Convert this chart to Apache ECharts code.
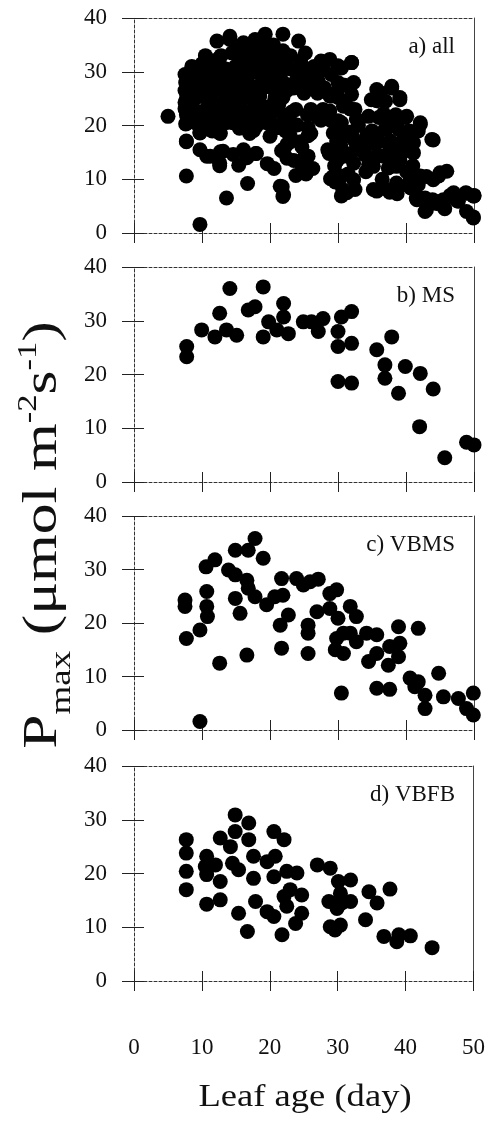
<!DOCTYPE html>
<html>
<head>
<meta charset="utf-8">
<script src="https://cdn.jsdelivr.net/npm/echarts@6/dist/echarts.min.js"></script>
<style>
html,body{margin:0;padding:0;background:#fff;}
#chart{width:488px;height:1125px;}
</style>
</head>
<body>
<div id="chart"></div>
<script>
// ---- data (leaf age in days, Pmax in µmol m-2 s-1) ----
const xTicks = [0, 10, 20, 30, 40, 50];
const yTicks = [0, 10, 20, 30, 40];
const panelLabels = ['a) all', 'b) MS', 'c) VBMS', 'd) VBFB'];

const msDay  = [7.75,7.75,9.95,11.9,12.6,14.1,13.6,15.1,16.8,17.8,19.0,19.0,19.8,21.0,22.0,22.0,22.7,24.9,26.1,27.1,27.8,30.0,30.0,30.5,32.0,32.0,30.0,32.0,35.7,37.9,36.9,36.9,38.9,39.9,42.1,44.0,42.0,45.7,48.9,50.0];
const msPmax = [25.2,23.3,28.3,27.0,31.4,36.0,28.3,27.3,32.0,32.6,36.3,27.0,29.8,28.3,33.2,30.7,27.6,29.8,29.8,28.0,30.4,28.0,25.2,30.7,31.7,25.8,18.7,18.4,24.6,27.0,21.8,19.3,16.5,21.5,20.2,17.3,10.3,4.5,7.4,6.9];

const vbmsDay  = [7.5,7.5,7.7,9.7,10.7,10.7,10.8,10.6,11.9,12.6,9.7,13.9,14.9,14.9,16.8,17.8,19.0,16.6,16.8,17.8,14.9,15.6,16.6,19.5,20.7,21.9,21.7,23.9,24.9,25.9,27.1,21.5,22.7,21.7,25.6,25.6,25.6,26.9,28.8,29.8,28.8,30.0,29.8,30.8,29.6,30.8,30.5,31.8,32.7,31.8,32.7,34.2,35.7,34.5,35.7,35.7,37.6,37.6,39.1,38.9,37.4,38.9,41.8,40.6,41.8,41.3,42.8,42.8,44.8,45.5,47.7,48.9,49.9,49.9];
const vbmsPmax = [24.3,23.1,17.1,18.7,25.9,23.1,21.2,30.5,31.8,12.5,1.6,29.9,29.0,33.6,33.6,35.8,32.1,28.0,26.5,24.9,24.6,21.8,14.0,23.4,24.9,25.2,28.3,28.3,27.1,27.7,28.2,19.6,21.5,15.3,19.6,18.1,14.3,22.1,25.5,26.2,22.7,20.9,17.1,18.1,15.0,14.3,6.9,23.1,21.2,18.1,16.5,18.1,17.8,12.8,14.3,7.8,7.6,15.6,16.2,13.7,12.1,19.3,19.0,9.7,9.0,8.1,6.5,4.0,10.6,6.2,5.9,4.0,2.8,6.9];

const vbfbDay  = [7.7,7.7,7.7,7.7,10.7,10.5,10.7,10.7,12.7,12.7,12.7,14.2,14.9,14.9,16.9,16.9,14.5,15.4,12.0,15.4,16.7,17.6,17.6,17.9,19.6,20.8,20.6,22.1,20.6,22.5,24.0,19.6,20.6,22.1,23.0,24.7,22.5,24.7,21.8,23.8,27.0,28.9,30.1,31.9,28.7,30.4,30.6,31.9,29.9,28.9,30.4,29.6,34.1,34.6,35.8,37.7,36.8,39.0,40.7,38.7,43.9];
const vbfbPmax = [26.3,23.8,20.4,17.0,23.2,21.3,19.8,14.3,15.1,18.5,26.6,25.0,27.8,30.9,29.4,26.3,21.9,20.7,21.6,12.6,9.2,23.2,19.1,14.8,22.2,23.2,27.8,26.3,19.4,20.4,20.1,12.9,12.0,15.7,17.0,16.0,13.9,12.6,8.6,10.7,21.6,21.0,18.5,18.8,14.8,16.3,14.5,14.8,13.5,10.1,10.4,9.5,11.4,16.6,14.5,17.1,8.3,8.6,8.4,7.3,6.2];

// additional leaves shown only in panel a) all
const otherDay  = [5.0,7.7,7.5,7.6,7.5,7.7,7.6,9.5,9.8,10.2,10.0,9.7,9.7,11.2,11.0,11.5,11.8,12.0,12.3,12.6,12.6,13.1,13.6,12.2,12.8,13.5,13.8,14.1,14.4,14.6,15.0,15.3,15.7,16.1,16.1,16.3,16.5,17.0,17.5,17.8,18.0,18.0,18.0,18.5,19.0,19.3,19.5,20.0,20.3,20.0,21.0,21.3,21.5,21.9,21.9,21.9,22.3,22.5,23.0,23.2,23.5,24.2,24.5,25.5,26.0,26.3,27.0,27.5,28.8,28.3,29.1,29.3,30.0,30.3,30.3,31.0,31.3,31.8,32.0,32.3,32.3,32.3,32.3,33.0,34.5,34.9,35.7,36.5,36.7,36.7,37.1,37.9,38.1,38.6,38.6,39.1,39.6,40.1,40.1,40.6,41.5,42.1,42.1,43.8,44.0,44.5,45.0,46.0,46.5,47.5,48.8,49.9,50.0,
  8.5,9.0,9.0,10.5,10.5,10.8,11.5,12.0,13.0,13.0,14.0,14.5,15.0,15.8,16.5,17.0,17.5,18.5,18.8,19.5,20.5,20.8,21.5,22.5,23.0,23.5,24.0,24.5,25.2,25.0,25.3,26.5,27.0,
  35.2,36.2,37.6,39.1,41.1,41.1,39.1,30.7,32.5,35.2,38.6,43.0,43.0,45.5,47.0,41.6,30.8,27.8,29.3,29.3,22.0,
  8.3,8.5,9.2,9.5,10.0,11.0,11.0,11.5,12.5,12.5,13.5,13.5,14.5,14.8,15.5,15.5,16.0,16.8,17.0,17.5,18.0,18.5,19.0,19.8,20.0,20.5,21.0,21.5,22.0,22.5,23.0,23.5,23.8,24.5,25.0,25.5,26.0,26.5,27.5,28.0,28.5,29.0,29.5,30.5,31.0,31.5,32.5,33.0,
  34.0,35.0,36.0,37.0,38.0,38.5,39.5,40.5,41.0,36.0];
const otherPmax = [21.7,10.6,29.5,28.0,26.5,22.0,20.3,27.5,30.5,25.5,22.0,18.6,15.5,14.3,29.5,32.0,27.0,24.0,21.0,18.6,13.0,15.2,6.5,35.7,33.0,30.5,27.0,36.6,33.5,14.6,31.0,26.0,23.5,35.4,15.5,30.5,20.0,27.5,33.5,36.0,30.0,14.8,19.9,25.5,22.5,37.0,33.0,29.5,27.0,18.0,31.5,24.0,8.7,6.8,37.0,33.9,19.0,16.5,30.5,22.5,13.5,35.7,32.0,30.5,23.0,12.0,26.0,32.0,32.3,21.7,25.5,18.6,31.1,16.1,10.6,27.5,7.5,14.3,31.7,28.0,17.4,13.0,9.9,20.0,21.7,24.8,26.7,10.0,22.2,14.3,19.3,27.3,13.7,19.8,12.4,25.2,17.4,21.7,11.4,16.1,6.5,20.5,10.6,17.4,9.9,5.5,11.2,11.5,7.0,6.0,7.5,3.0,7.0,
  31.0,25.0,20.5,33.0,27.5,20.0,24.5,30.0,22.5,27.5,24.0,20.5,34.0,28.5,32.5,22.5,25.0,34.5,28.0,20.5,35.0,25.5,29.0,26.5,33.0,20.0,29.5,17.0,33.5,14.0,11.0,28.0,30.0,
  12.4,26.1,21.1,24.8,16.8,14.9,13.6,8.1,8.1,8.1,9.3,10.5,4.3,5.0,7.5,6.2,23.6,23.0,14.9,10.5,7.1,
  24.0,27.0,29.0,22.5,31.5,26.0,22.5,19.0,28.5,32.5,25.5,20.5,29.0,22.5,32.0,19.5,25.0,29.5,18.5,31.5,21.5,23.5,31.0,34.5,22.0,32.5,20.0,26.0,22.0,31.0,18.0,27.0,23.0,30.5,26.0,22.0,18.5,31.0,21.0,27.0,15.5,29.5,12.5,20.5,24.5,11.0,23.0,16.0,
  14.5,19.0,17.0,24.5,16.5,22.0,15.0,19.0,12.5,21.5];

const allDay  = [].concat(msDay, vbmsDay, vbfbDay, otherDay);
const allPmax = [].concat(msPmax, vbmsPmax, vbfbPmax, otherPmax);

const panels = [
  {day: allDay, pmax: allPmax},
  {day: msDay, pmax: msPmax},
  {day: vbmsDay, pmax: vbmsPmax},
  {day: vbfbDay, pmax: vbfbPmax}
];

// ---- layout ----
const SERIF = '"Liberation Serif","DejaVu Serif",serif';
const gridTops = [18, 267, 516, 766];
const gridHeights = [215, 215, 214, 215];
const frameLine = {color: '#333', width: 1, type: [3, 2]};

const grids = [], xAxes = [], yAxes = [], series = [], titles = [];
panels.forEach((p, i) => {
  grids.push({left: 134, right: 14, top: gridTops[i], height: gridHeights[i], containLabel: false});
  const base = {gridIndex: i, type: 'value', min: xTicks[0], max: xTicks[xTicks.length - 1], interval: 10, splitLine: {show: false}};
  xAxes.push(Object.assign({}, base, {
    position: 'bottom',
    axisLine: {show: true, onZero: false, lineStyle: frameLine},
    axisTick: {show: true, inside: true, length: 10, lineStyle: {color: '#222'}},
    axisLabel: {show: i === 3, margin: 55, fontFamily: SERIF, fontSize: 23, color: '#111'}
  }));
  xAxes.push(Object.assign({}, base, {
    position: 'bottom',
    axisLine: {show: false},
    axisTick: {show: true, inside: false, length: 10, lineStyle: {color: '#222'}},
    axisLabel: {show: false}
  }));
  xAxes.push(Object.assign({}, base, {
    position: 'top',
    axisLine: {show: true, onZero: false, lineStyle: frameLine},
    axisTick: {show: false}, axisLabel: {show: false}
  }));
  const ybase = {gridIndex: i, type: 'value', min: yTicks[0], max: yTicks[yTicks.length - 1], interval: 10, splitLine: {show: false}};
  yAxes.push(Object.assign({}, ybase, {
    position: 'left',
    axisLine: {show: true, onZero: false, lineStyle: frameLine},
    axisTick: {show: true, inside: false, length: 12, lineStyle: {color: '#222'}},
    axisLabel: {show: true, margin: 27, fontFamily: SERIF, fontSize: 23, color: '#111'}
  }));
  yAxes.push(Object.assign({}, ybase, {
    position: 'left',
    axisLine: {show: false},
    axisTick: {show: true, inside: true, length: 10, lineStyle: {color: '#222'}},
    axisLabel: {show: false}
  }));
  yAxes.push(Object.assign({}, ybase, {
    position: 'right',
    axisLine: {show: true, onZero: false, lineStyle: {color: '#444', width: 1}},
    axisTick: {show: false}, axisLabel: {show: false}
  }));
  series.push({
    type: 'scatter',
    xAxisIndex: i * 3,
    yAxisIndex: i * 3,
    symbol: 'circle',
    symbolSize: 15,
    itemStyle: {color: '#000', opacity: 1},
    data: p.day.map((d, k) => [d, p.pmax[k]]),
    animation: false
  });
  titles.push({
    text: panelLabels[i],
    right: 28,
    top: gridTops[i] + 12,
    textStyle: {fontFamily: SERIF, fontSize: 23, fontWeight: 'normal', color: '#111'}
  });
});

const chart = echarts.init(document.getElementById('chart'), null, {renderer: 'canvas'});
chart.setOption({
  backgroundColor: '#fff',
  animation: false,
  title: titles,
  grid: grids,
  xAxis: xAxes,
  yAxis: yAxes,
  series: series,
  graphic: [
    {
      type: 'text',
      x: 41, y: 535,
      rotation: Math.PI / 2,
      scaleX: 1.28,
      style: {
        text: '{p|P}{sub|max}{p| (μmol m}{sup|-2}{p|s}{sup|-1}{p|)}',
        align: 'center',
        verticalAlign: 'middle',
        fill: '#111',
        rich: {
          p: {fontFamily: SERIF, fontSize: 48, fill: '#111', verticalAlign: 'bottom', lineHeight: 52},
          sub: {fontFamily: SERIF, fontSize: 29, fill: '#111', verticalAlign: 'bottom', lineHeight: 52, padding: [0, 0, -10, 0]},
          sup: {fontFamily: SERIF, fontSize: 27, fill: '#111', verticalAlign: 'top', lineHeight: 52}
        }
      }
    },
    {
      type: 'text',
      x: 305, y: 1098,
      scaleX: 1.18,
      style: {
        text: 'Leaf age (day)',
        align: 'center',
        verticalAlign: 'middle',
        fontFamily: SERIF,
        fontSize: 31,
        fill: '#111'
      }
    }
  ]
});
</script>
</body>
</html>
